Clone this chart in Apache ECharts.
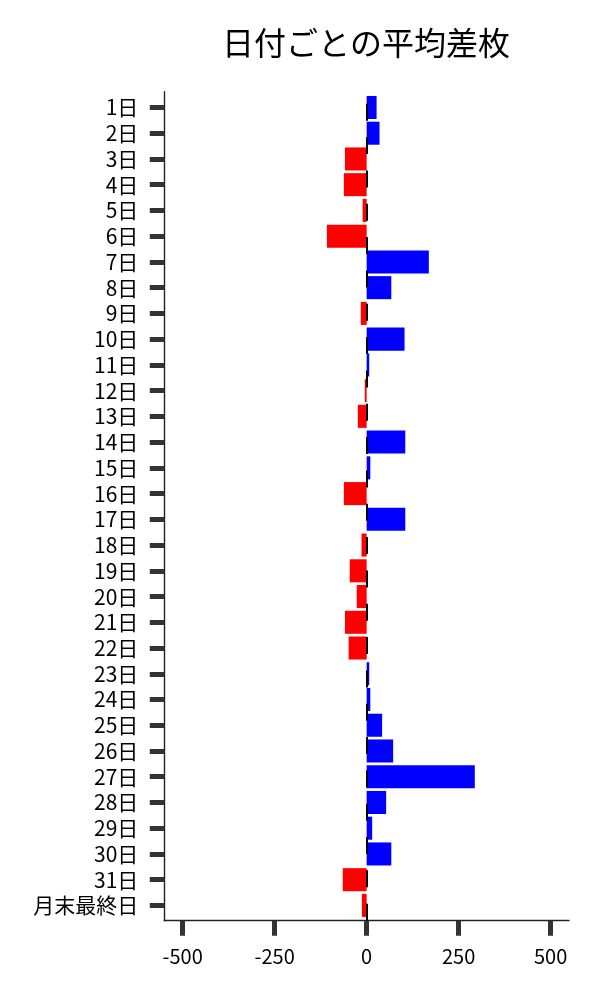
<!DOCTYPE html>
<html>
<head>
<meta charset="utf-8">
<script src="https://cdn.jsdelivr.net/npm/echarts@6/dist/echarts.min.js"></script>
<style>
html,body{margin:0;padding:0;background:#fff;}
#chart{width:600px;height:1000px;}
</style>
</head>
<body>
<div id="chart"></div>
<script>
const titleText = '日付ごとの平均差枚';
const categories = ['1日','2日','3日','4日','5日','6日','7日','8日','9日','10日','11日','12日','13日','14日','15日','16日','17日','18日','19日','20日','21日','22日','23日','24日','25日','26日','27日','28日','29日','30日','31日','月末最終日'];
const values = [27,35,-59,-62,-11,-108,169,67,-16,103,7,-5,-24,105,10,-62,105,-14,-46,-27,-59,-49,7,10,42,72,294,53,15,67,-65,-13];
const xTicks = [-500,-250,0,250,500];
const xMin = -550, xMax = 550;

const FONT = 'Noto Sans CJK JP';
const chart = echarts.init(document.getElementById('chart'), null, {renderer:'canvas'});
chart.setOption({
  animation:false,
  backgroundColor:'#fff',
  title:{
    text:titleText,
    left:361,
    textAlign:'center',
    top:22,
    textStyle:{fontFamily:FONT,fontSize:32,fontWeight:'normal',color:'#000'}
  },
  grid:[
    {left:164.3,right:31,top:94.6,bottom:81.7,containLabel:false},
    {left:164.3,right:31,top:91.7,bottom:79.3,containLabel:false}
  ],
  xAxis:[
    {
      gridIndex:0,type:'value',min:xMin,max:xMax,show:false,
      splitLine:{show:false}
    },
    {
      gridIndex:1,type:'value',min:xMin,max:xMax,
      splitLine:{show:false},
      axisLine:{show:true,lineStyle:{color:'#222',width:1.4}},
      axisTick:{show:true,length:15,customValues:xTicks,lineStyle:{color:'#333',width:5}},
      axisLabel:{show:true,customValues:xTicks,margin:26,fontFamily:FONT,fontSize:20,color:'#000'}
    }
  ],
  yAxis:[
    {
      gridIndex:0,type:'category',data:categories,inverse:true,position:'left',
      axisLine:{show:false,onZero:false},
      axisTick:{show:true,alignWithLabel:true,interval:0,length:14.5,lineStyle:{color:'#333',width:5}},
      axisLabel:{show:true,interval:0,margin:26,fontFamily:FONT,fontSize:21,color:'#000'},
      splitLine:{show:false}
    },
    {
      gridIndex:1,type:'value',min:0,max:1,position:'left',
      axisLine:{show:true,onZero:false,lineStyle:{color:'#222',width:1.4}},
      axisTick:{show:false},axisLabel:{show:false},splitLine:{show:false}
    }
  ],
  series:[
    {
      type:'bar',
      xAxisIndex:0,yAxisIndex:0,
      data:values,
      barCategoryGap:'10.5%',
      itemStyle:{color:function(p){return p.value>=0?'#0000ff':'#ff0000';}}
    },
    {
      type:'line',
      xAxisIndex:1,yAxisIndex:1,
      data:[],
      z:5,
      markLine:{
        silent:true,
        symbol:['none','none'],
        label:{show:false},
        lineStyle:{color:'#000',width:2,type:[17,16.33],dashOffset:0},
        data:[{xAxis:0}]
      }
    }
  ]
});
</script>
</body>
</html>
